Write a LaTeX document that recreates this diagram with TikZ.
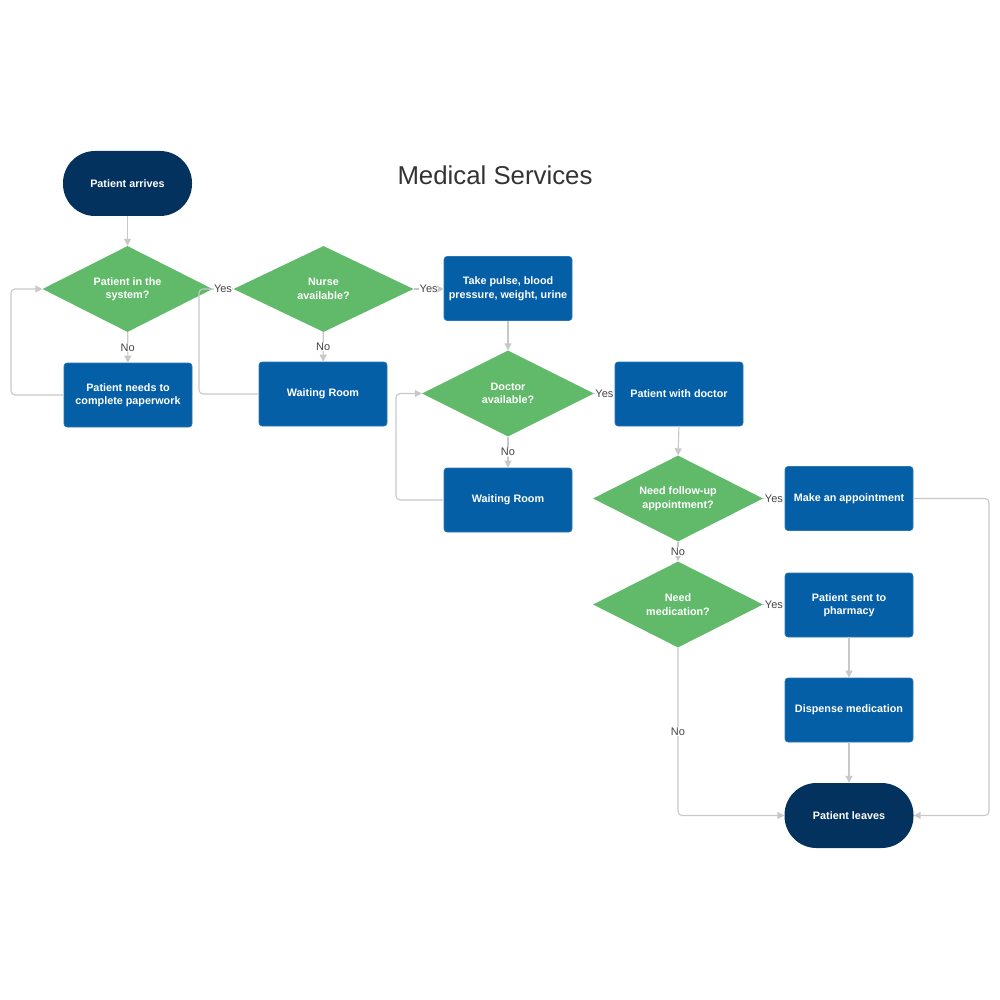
\documentclass[tikz,border=0pt]{standalone}
\usepackage{fontspec}
\setmainfont{Liberation Sans}
\usetikzlibrary{shapes.geometric,arrows.meta}
\definecolor{navy}{HTML}{04325F}
\definecolor{boxblue}{HTML}{055FA6}
\definecolor{dgreen}{HTML}{60BA6A}
\definecolor{linegray}{HTML}{C8C8C8}
\definecolor{labgray}{HTML}{444444}
\definecolor{titlegray}{HTML}{333333}
\begin{document}
\begin{tikzpicture}[x=1pt,y=-1pt,
  base/.style={text=white,font=\bfseries\fontsize{10.8}{13.5}\selectfont,align=center,inner sep=0pt},
  term/.style={base,fill=navy,rounded corners=32pt,minimum width=129pt,minimum height=65pt},
  proc/.style={base,fill=boxblue,draw=boxblue!85!white,line width=0.6pt,rounded corners=3pt,minimum width=128pt,minimum height=64pt},
  dec/.style={base,fill=dgreen,diamond,aspect=2,minimum width=170pt,minimum height=86pt},
  conn/.style={draw=linegray,line width=1.1pt,-{Triangle[length=7pt,width=7pt]},rounded corners=4pt},
  lab/.style={font=\fontsize{11}{13}\selectfont,text=labgray,fill=white,inner sep=0.5pt}]
\useasboundingbox (0,0) rectangle (1000,1000);

\node[font=\fontsize{25.8}{30}\selectfont,text=titlegray] (title) at (495,175) {Medical Services};

\node[term] (arr) at (127.5,183.5) {Patient arrives};
\node[dec] (d1) at (127.5,289) {Patient in the\\system?};
\node[dec,minimum width=180pt] (d2) at (323.5,289) {Nurse\\available?};
\node[proc] (tp) at (508,288.5) {Take pulse, blood\\pressure, weight, urine};
\node[proc] (pw) at (128,395) {Patient needs to\\complete paperwork};
\node[proc] (w1) at (323,394) {Waiting Room};
\node[dec,minimum width=172pt] (d3) at (508,393.5) {Doctor\\available?};
\node[proc] (pd) at (679,394) {Patient with doctor};
\node[proc] (w2) at (508,500) {Waiting Room};
\node[dec] (d4) at (678,498.5) {Need follow-up\\appointment?};
\node[proc] (ap) at (849,498.5) {Make an appointment};
\node[dec] (d5) at (678,604.5) {Need\\medication?};
\node[proc] (ph) at (849,605) {Patient sent to\\pharmacy};
\node[proc] (dm) at (849,710) {Dispense medication};
\node[term] (lv) at (849,815.5) {Patient leaves};

\coordinate (l1) at (11,395);
\coordinate (l2) at (199,394);
\coordinate (l3) at (396,500);
\coordinate (r1) at (989,498.5);

\draw[conn] (arr) -- (d1);
\draw[conn] (d1) -- node[lab] {No} (pw);
\draw[conn] (pw.west) -- (l1) |- (d1.west);
\draw[conn] (w1.west) -- (l2) |- (d2.west);
\draw[conn] (d1.east) -- node[lab] {Yes} (d2.west);
\draw[conn] (d2) -- node[lab] {No} (w1);
\draw[conn] (d2.east) -- node[lab] {Yes} (d2.east -| tp.west);
\draw[conn] (tp) -- (d3);
\draw[conn] (d3) -- node[lab] {No} (w2);
\draw[conn] (w2.west) -- (l3) |- (d3.west);
\draw[conn] (d3.east) -- node[lab] {Yes} (d3.east -| pd.west);
\draw[conn] (pd.south) -- (d4.north);
\draw[conn] (d4.east) -- node[lab] {Yes} (ap.west);
\draw[conn] (d4) -- node[lab] {No} (d5);
\draw[conn] (d5.east) -- node[lab] {Yes} (d5.east -| ph.west);
\draw[conn] (ph) -- (dm);
\draw[conn] (dm) -- (lv);
\draw[conn] (d5.south) |- node[lab,pos=0.25] {No} (lv.west);
\draw[conn] (ap.east) -- (r1) |- (lv.east);
\end{tikzpicture}
\end{document}
